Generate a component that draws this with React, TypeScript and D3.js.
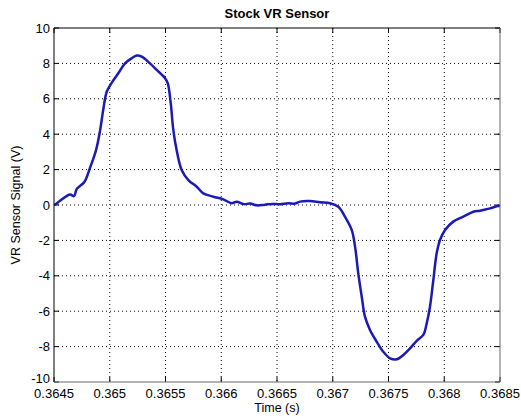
import React from "react";
import * as d3 from "d3";

const timeValues = [
  0.3645, 0.364509, 0.364554, 0.364644, 0.364679, 0.364704, 0.364772, 0.364823, 0.364877,
  0.364913, 0.364942, 0.364973, 0.365017, 0.365077, 0.365137, 0.365197, 0.365242,
  0.365287, 0.365361, 0.365421, 0.365496, 0.36552, 0.365547, 0.36557, 0.3656,
  0.365645, 0.365705, 0.36578, 0.365839, 0.365929, 0.366018, 0.366094, 0.366139,
  0.366200, 0.366258, 0.366320, 0.366392, 0.366460, 0.366527, 0.366600, 0.366662,
  0.366706, 0.366796, 0.366886, 0.366975, 0.36705, 0.36711, 0.36717, 0.3672,
  0.367229, 0.36726, 0.367289, 0.367334, 0.367394, 0.367453, 0.367514, 0.367574,
  0.367633, 0.367693, 0.367753, 0.367812, 0.367843, 0.367872, 0.367902, 0.367932,
  0.367962, 0.368007, 0.368081, 0.368171, 0.368261, 0.368321, 0.36841, 0.368485, 0.3685,
];

const signalValues = [
  0.0, 0.02, 0.24, 0.6, 0.5, 0.9, 1.3, 2.1, 3.1,
  4.2, 5.4, 6.4, 6.9, 7.44, 8.0, 8.29, 8.44,
  8.38, 8.0, 7.63, 7.16, 6.88, 5.75, 4.24, 3.1,
  1.98, 1.41, 1.03, 0.66, 0.47, 0.32, 0.1, 0.19,
  0.05, 0.08, -0.02, 0.02, 0.06, 0.04, 0.1, 0.08,
  0.19, 0.22, 0.15, 0.1, -0.1, -0.66, -1.41, -2.35,
  -3.86, -5.18, -6.31, -7.06, -7.72, -8.29, -8.66, -8.72,
  -8.47, -8.1, -7.67, -7.34, -6.68, -5.75, -4.24, -2.73,
  -1.98, -1.41, -0.94, -0.66, -0.38, -0.32, -0.19, -0.06, -0.08,
];

const xTicks = [0.3645, 0.365, 0.3655, 0.366, 0.3665, 0.367, 0.3675, 0.368, 0.3685];
const xTickLabels = ["0.3645", "0.365", "0.3655", "0.366", "0.3665", "0.367", "0.3675", "0.368", "0.3685"];
const yTicks = [-10, -8, -6, -4, -2, 0, 2, 4, 6, 8, 10];

const W = 521;
const H = 419;
const L = 54, R = 500, T = 28, B = 382;

export default function App() {
  const x = d3.scaleLinear().domain([0.3645, 0.3685]).range([L, R]);
  const y = d3.scaleLinear().domain([-10, 10]).range([B, T]);
  const pts: [number, number][] = timeValues.map((t, i) => [t, signalValues[i]]);
  const line = d3
    .line<[number, number]>()
    .x((d) => x(d[0]))
    .y((d) => y(d[1]))
    .curve(d3.curveCatmullRom.alpha(0.5));
  const font = "'Liberation Sans', Arial, sans-serif";
  return (
    <svg
      width={W}
      height={H}
      style={{ position: "absolute", left: 0, top: 0, background: "#fff" }}
    >
      <rect x={0} y={0} width={W} height={H} fill="#fff" />
      <rect x={L} y={T} width={R - L} height={B - T} fill="#fff" />
      {/* grid */}
      {xTicks.slice(1, -1).map((t) => (
        <line key={"gx" + t} x1={x(t)} x2={x(t)} y1={T} y2={B} stroke="#000" strokeWidth={1} strokeDasharray="1,3" />
      ))}
      {yTicks.slice(1, -1).map((v) => (
        <line key={"gy" + v} x1={L} x2={R} y1={y(v)} y2={y(v)} stroke="#000" strokeWidth={1} strokeDasharray="1,3" />
      ))}
      {/* ticks */}
      {xTicks.map((t) => (
        <g key={"tx" + t}>
          <line x1={x(t)} x2={x(t)} y1={B} y2={B - 5} stroke="#000" />
          <line x1={x(t)} x2={x(t)} y1={T} y2={T + 5} stroke="#000" />
        </g>
      ))}
      {yTicks.map((v) => (
        <g key={"ty" + v}>
          <line x1={L} x2={L + 5} y1={y(v)} y2={y(v)} stroke="#000" />
          <line x1={R} x2={R - 5} y1={y(v)} y2={y(v)} stroke="#000" />
        </g>
      ))}
      {/* data */}
      <path d={line(pts) || ""} fill="none" stroke="#1a1ab4" strokeWidth={2.5} strokeLinejoin="round" />
      {/* box */}
      <line x1={L} x2={R} y1={T} y2={T} stroke="#000" />
      <line x1={L} x2={L} y1={T} y2={B} stroke="#000" />
      <line x1={R} x2={R} y1={T} y2={B} stroke="#666" />
      <line x1={L} x2={R} y1={B} y2={B} stroke="#666" />
      {/* labels */}
      {xTicks.map((t, i) => (
        <text key={"lx" + t} x={x(t)} y={398} textAnchor="middle" fontFamily={font} fontSize={13} fill="#000">
          {xTickLabels[i]}
        </text>
      ))}
      {yTicks.map((v) => (
        <text key={"ly" + v} x={L - 4} y={y(v) + (v === -10 ? 1 : 4.5)} textAnchor="end" fontFamily={font} fontSize={13} fill="#000">
          {v}
        </text>
      ))}
      <text x={(L + R) / 2} y={18} textAnchor="middle" fontFamily={font} fontSize={13} fontWeight="bold" fill="#000">
        Stock VR Sensor
      </text>
      <text x={(L + R) / 2} y={411.5} textAnchor="middle" fontFamily={font} fontSize={12.5} fill="#000">
        Time (s)
      </text>
      <text
        transform={`translate(20,${(T + B) / 2}) rotate(-90)`}
        textAnchor="middle"
        fontFamily={font}
        fontSize={12.5}
        fill="#000"
      >
        VR Sensor Signal (V)
      </text>
    </svg>
  );
}
